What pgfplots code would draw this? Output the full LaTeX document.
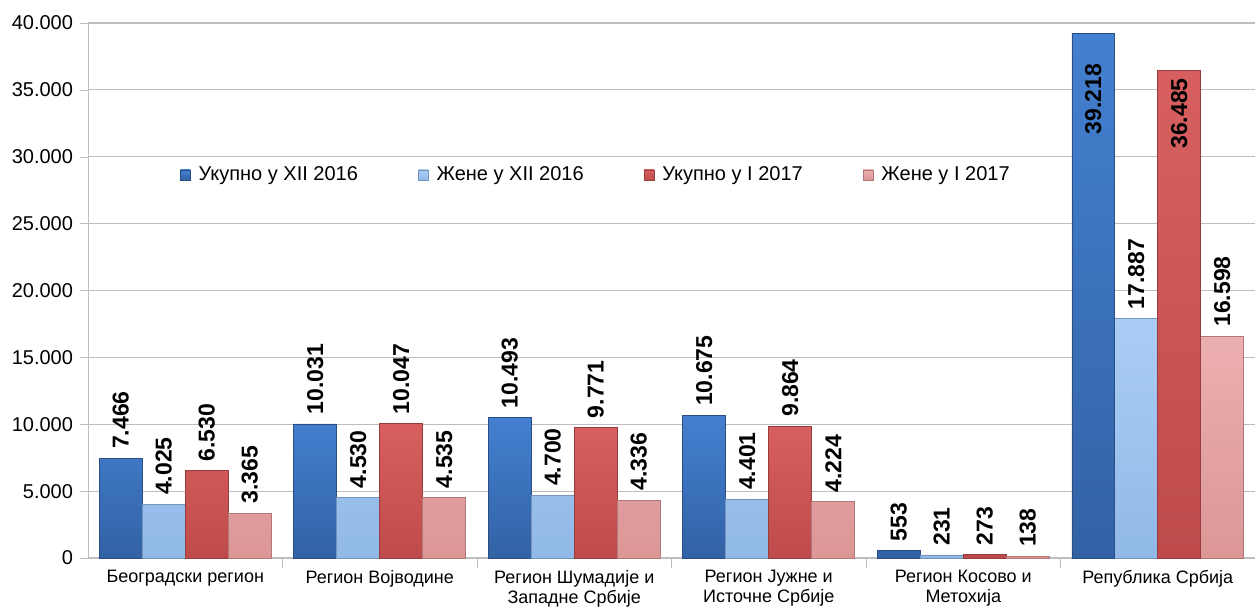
\documentclass[border=0pt]{standalone}
\usepackage{fontspec}
\setmainfont{Liberation Sans}
\usepackage{pgfplots}
\pgfplotsset{compat=1.18}

\definecolor{blueT}{RGB}{68,128,208}
\definecolor{blueB}{RGB}{50,98,165}
\definecolor{lblueT}{RGB}{170,205,245}
\definecolor{lblueB}{RGB}{145,185,232}
\definecolor{redT}{RGB}{215,95,95}
\definecolor{redB}{RGB}{190,75,75}
\definecolor{pinkT}{RGB}{236,175,175}
\definecolor{pinkB}{RGB}{220,150,150}
\definecolor{gridc}{RGB}{190,190,190}

\tikzset{
  sA/.style={top color=blueT, bottom color=blueB, draw=blueB!80!black, line width=0.3pt},
  sB/.style={top color=lblueT, bottom color=lblueB, draw=lblueB!80!black, line width=0.3pt},
  sC/.style={top color=redT, bottom color=redB, draw=redB!80!black, line width=0.3pt},
  sD/.style={top color=pinkT, bottom color=pinkB, draw=pinkB!80!black, line width=0.3pt},
}

\begin{document}
\begin{tikzpicture}
\begin{axis}[
  scale only axis, width=583.5pt, height=267.5pt,
  ybar, bar width=0.221,
  xmin=-0.5, xmax=5.5, ymin=0, ymax=40000,
  axis lines*=left,
  axis line style={gridc, -},
  ytick={0,5000,...,40000},
  ymajorgrids, grid style={gridc, line width=0.6pt},
  scaled y ticks=false,
  yticklabel style={font=\fontsize{10}{12}\selectfont,
    /pgf/number format/.cd, 1000 sep={.}, assume math mode=true},
  ytick style={gridc}, tick align=outside, major tick length=4pt,
  xtick={0,...,5},
  xticklabels={{Београдски регион},{Регион Војводине},{Регион Шумадије и\\Западне Србије},{Регион Јужне и\\Источне Србије},{Регион Косово и\\Метохија},{Република Србија}},
  xticklabel style={font=\fontsize{9}{10}\selectfont, align=center, inner sep=1pt, yshift=-1pt},
  xtick style={draw=none},
  extra x ticks={0.5,1.5,2.5,3.5,4.5},
  extra x tick labels={},
  extra x tick style={grid=none, xtick style={draw=gridc}, major tick length=5pt},
  legend columns=4,
  legend style={at={(0.436,0.716)}, anchor=center, draw=none, fill=none,
    font=\fontsize{10}{12}\selectfont,
    /tikz/every even column/.append style={column sep=28pt},
    /tikz/every odd column/.append style={column sep=2pt}},
  legend image code/.code={\draw[#1] (0pt,-2.5pt) rectangle (5pt,2.5pt);},
  nodes near coords={\pgfmathprintnumber[fixed,precision=0,1000 sep={.},assume math mode=true]{\pgfplotspointmeta}},
  every node near coord/.append style={font=\fontsize{11.5}{13}\selectfont\bfseries, rotate=90, anchor=west, inner sep=4.5pt},
]
\addplot[sA, bar shift=-0.3315] coordinates {(0,7466) (1,10031) (2,10493) (3,10675) (4,553)};
\addplot[sB, bar shift=-0.1105] coordinates {(0,4025) (1,4530) (2,4700) (3,4401) (4,231) (5,17887)};
\addplot[sC, bar shift=0.1105] coordinates {(0,6530) (1,10047) (2,9771) (3,9864) (4,273)};
\addplot[sD, bar shift=0.3315] coordinates {(0,3365) (1,4535) (2,4336) (3,4224) (4,138) (5,16598)};
\legend{Укупно у XII 2016, Жене у XII 2016, Укупно у I 2017, Жене у I 2017}
% the two tall bars carry their labels inside
\addplot[sA, bar shift=-0.3315, forget plot,
  every node near coord/.append style={anchor=east, inner sep=0pt, xshift=-15pt}]
  coordinates {(5,39218)};
\addplot[sC, bar shift=0.1105, forget plot,
  every node near coord/.append style={anchor=east, inner sep=0pt, xshift=-4pt}]
  coordinates {(5,36485)};
\end{axis}
\pgfresetboundingbox
\path[use as bounding box] ([xshift=-44pt,yshift=-26pt]current axis.south west) rectangle ([xshift=1pt,yshift=11.5pt]current axis.north east);
\end{tikzpicture}
\end{document}
